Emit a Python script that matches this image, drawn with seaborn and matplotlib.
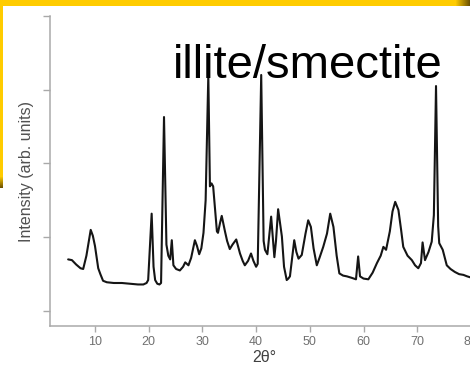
import matplotlib
matplotlib.use("Agg")
import matplotlib.pyplot as plt
import matplotlib.colors as mcolors
from matplotlib.patches import Rectangle
import pandas as pd
import seaborn as sns

# Diffractogram of an illite/smectite sample (2-theta in degrees, intensity in arb. units)
two_theta = [5.0, 5.7, 6.5, 7.3, 7.8, 8.4, 9.2, 9.6, 10.0, 10.6, 11.0, 11.5, 12.2,
             13.5, 15.0, 16.5, 18.0, 19.0, 19.6, 19.9, 20.55, 20.9, 21.2, 21.6, 22.0,
             22.3, 22.85, 23.3, 23.65, 24.0, 24.3, 24.6, 25.1, 25.8, 26.4, 26.8, 27.4,
             27.9, 28.6, 29.0, 29.4, 29.8, 30.2, 30.6, 31.1, 31.4, 31.7, 32.0, 32.4,
             32.7, 32.9, 33.3, 33.6, 34.2, 34.6, 35.1, 35.6, 36.3, 37.0, 37.5, 37.9,
             38.5, 39.05, 39.5, 40.0, 40.3, 40.95, 41.4, 41.65, 42.1, 42.8, 43.4, 43.7,
             44.1, 44.8, 45.2, 45.7, 46.0, 46.3, 47.1, 47.5, 47.9, 48.5, 49.2, 49.7,
             50.2, 50.7, 51.3, 51.8, 52.5, 53.2, 53.8, 54.4, 55.0, 55.5, 56.2, 56.9,
             57.8, 58.6, 59.0, 59.35, 60.0, 60.9, 61.7, 62.5, 63.2, 63.7, 64.2, 64.9,
             65.4, 65.9, 66.5, 67.0, 67.4, 68.2, 69.0, 69.6, 70.2, 70.7, 71.0, 71.45,
             72.1, 72.7, 73.1, 73.5, 73.9, 74.1, 74.75, 75.5, 76.2, 77.0, 77.8, 78.6,
             79.3, 80.2]
intensity = [0.70, 0.69, 0.63, 0.58, 0.57, 0.75, 1.10, 1.02, 0.88, 0.58, 0.50, 0.41, 0.39,
             0.38, 0.38, 0.37, 0.36, 0.36, 0.38, 0.42, 1.32, 0.60, 0.42, 0.37, 0.36,
             0.38, 2.63, 0.90, 0.75, 0.70, 0.96, 0.62, 0.57, 0.55, 0.60, 0.66, 0.62,
             0.72, 0.96, 0.88, 0.77, 0.85, 1.06, 1.50, 3.20, 1.69, 1.73, 1.69, 1.35,
             1.08, 1.06, 1.20, 1.29, 1.08, 0.95, 0.84, 0.90, 0.97, 0.78, 0.68, 0.62,
             0.68, 0.78, 0.68, 0.60, 0.64, 3.20, 0.95, 0.83, 0.77, 1.28, 0.73, 0.95,
             1.38, 1.01, 0.60, 0.42, 0.44, 0.47, 0.96, 0.80, 0.71, 0.76, 1.05, 1.23,
             1.14, 0.85, 0.62, 0.72, 0.87, 1.05, 1.32, 1.14, 0.75, 0.51, 0.48, 0.47,
             0.45, 0.43, 0.74, 0.47, 0.44, 0.43, 0.52, 0.65, 0.75, 0.87, 0.83, 1.08,
             1.35, 1.48, 1.37, 1.10, 0.87, 0.75, 0.69, 0.62, 0.58, 0.65, 0.93, 0.69,
             0.80, 0.94, 1.30, 3.05, 1.15, 0.92, 0.83, 0.62, 0.57, 0.53, 0.50, 0.49,
             0.47, 0.45]
x_ticks = [10, 20, 30, 40, 50, 60, 70, 80]
y_ticks = [0, 1, 2, 3, 4]

sns.set_theme(style="white")
plt.rcParams['font.family'] = ['Liberation Sans', 'DejaVu Sans']

W, H = 470, 366
fig = plt.figure(figsize=(W / 100, H / 100), dpi=100)
fig.patch.set_facecolor('white')


def box(x0, y0, x1, y1):
    """Pixel box (top-left origin) -> figure fraction [left, bottom, w, h]."""
    return [x0 / W, 1 - y1 / H, (x1 - x0) / W, (y1 - y0) / H]


ax = fig.add_axes(box(50, 8, 492.4, 326))
ax.set_facecolor('none')

df = pd.DataFrame({"two_theta": two_theta, "intensity": intensity})
sns.lineplot(data=df, x="two_theta", y="intensity", ax=ax, color="#151515",
             linewidth=1.5, estimator=None, sort=False)

ax.set_xlim(1.62, 84.0)
ax.set_ylim(-0.203, 4.108)
ax.set_xticks(x_ticks)
ax.set_yticks(y_ticks)

spine_col = "#a9a9a9"
for side in ("top", "right"):
    ax.spines[side].set_visible(False)
for side in ("left", "bottom"):
    ax.spines[side].set_color(spine_col)
    ax.spines[side].set_linewidth(1.1)
ax.spines["left"].set_bounds(-0.203, 4)

ax.tick_params(axis="y", left=True, labelleft=False, length=5, width=1.0,
               color=spine_col, direction="out")
ax.tick_params(axis="x", bottom=True, length=4.5, width=1.0, color=spine_col,
               direction="out", labelsize=9, labelcolor="#707070", pad=3)
ax.grid(False)

ax.set_xlabel("2θ°", fontsize=11.5, color="#404040")
ax.xaxis.set_label_coords((264 - 50) / 442.4, (326 - 350) / 318)
ax.set_ylabel("Intensity (arb. units)", fontsize=11.5, color="#505050")
ax.yaxis.label.set_va("center")
ax.yaxis.set_label_coords((26 - 50) / 442.4, (326 - 172) / 318)

# slide title
fig.text(173 / W, 1 - 78 / H, "illite/smectite", fontsize=34, color="black",
         ha="left", va="baseline")

# yellow slide frame: top band with a darker fade at the right, thin left strip
gold = mcolors.to_rgb("#FFCC00")
dark = mcolors.to_rgb("#6e5200")
fig.add_artist(Rectangle((0, 1 - 6 / H), 1, 6 / H, transform=fig.transFigure,
                         facecolor=gold, edgecolor="none", zorder=5))
for i in range(14):
    t = (i + 1) / 14
    c = tuple(g * (1 - t) + d * t for g, d in zip(gold, dark))
    fig.add_artist(Rectangle(((456 + i) / W, 1 - 6 / H), 1 / W, 6 / H,
                             transform=fig.transFigure, facecolor=c,
                             edgecolor="none", zorder=6))
fig.add_artist(Rectangle((0, 1 - 177 / H), 3 / W, 177 / H, transform=fig.transFigure,
                         facecolor=gold, edgecolor="none", zorder=5))
for i in range(11):
    t = (i + 1) / 11
    c = tuple(g * (1 - t) + d * t for g, d in zip(gold, dark))
    fig.add_artist(Rectangle((0, 1 - (178 + i) / H), 3 / W, 1 / H,
                             transform=fig.transFigure, facecolor=c,
                             edgecolor="none", zorder=6))

fig.savefig("out.png", dpi=100)
